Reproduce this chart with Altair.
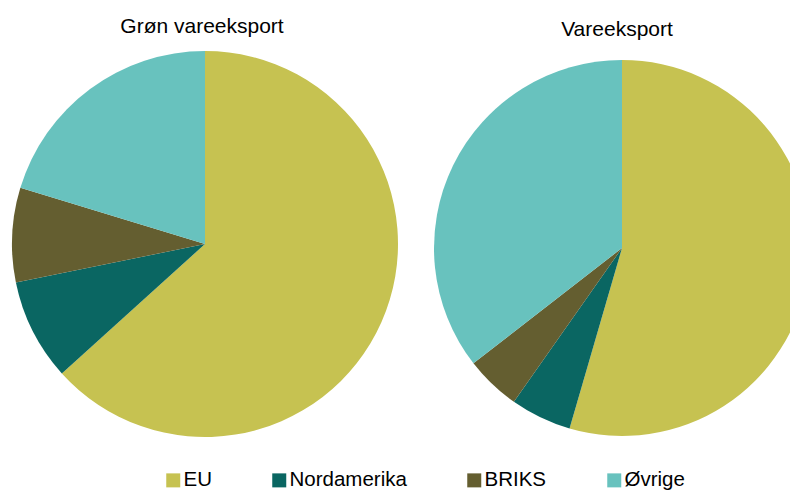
import altair as alt
import pandas as pd

regions = ["EU", "Nordamerika", "BRIKS", "Øvrige"]
green_export = [63.3, 8.5, 7.9, 20.3]
goods_export = [54.5, 5.25, 4.75, 35.5]
titles = ["Grøn vareeksport", "Vareeksport"]
colors = ["#c6c251", "#0a6662", "#645e30", "#68c2be"]

FONT = "Liberation Sans"

def pie_df(values):
    return pd.DataFrame({"region": regions, "value": values, "idx": list(range(len(regions)))})

color = alt.Color(
    "region:N",
    scale=alt.Scale(domain=regions, range=colors),
    sort=regions,
    legend=alt.Legend(
        title=None,
        orient="none",
        direction="horizontal",
        legendX=155,
        legendY=462,
        padding=0,
        symbolType="square",
        symbolSize=196,
        symbolStrokeWidth=0,
        labelFont=FONT,
        labelFontSize=20.5,
        labelColor="#000000",
        labelOffset=0,
        columnPadding=57,
        labelLimit=300,
    ),
)

left = alt.Chart(pie_df(green_export)).mark_arc(stroke=None).encode(
    theta=alt.Theta("value:Q", stack=True),
    color=color,
    order=alt.Order("idx:Q"),
    x=alt.value(197),
    y=alt.value(236),
    radius=alt.value(193),
)

right = alt.Chart(pie_df(goods_export)).mark_arc(stroke=None).encode(
    theta=alt.Theta("value:Q", stack=True),
    color=color,
    order=alt.Order("idx:Q"),
    x=alt.value(614),
    y=alt.value(240),
    radius=alt.value(188),
)

t1 = alt.Chart(pd.DataFrame({"t": [titles[0]]})).mark_text(
    font=FONT, fontSize=21, color="#000000", align="center", baseline="alphabetic"
).encode(text="t:N", x=alt.value(194), y=alt.value(25))

t2 = alt.Chart(pd.DataFrame({"t": [titles[1]]})).mark_text(
    font=FONT, fontSize=21, color="#000000", align="center", baseline="alphabetic"
).encode(text="t:N", x=alt.value(609), y=alt.value(28))

chart = alt.layer(left, right, t1, t2).resolve_scale(theta="independent").properties(
    width=782,
    height=483,
    padding=0,
    autosize=alt.AutoSizeParams(type="none"),
).configure_view(stroke=None)

chart.save("out.html", embed_options={"renderer": "svg", "actions": False})
